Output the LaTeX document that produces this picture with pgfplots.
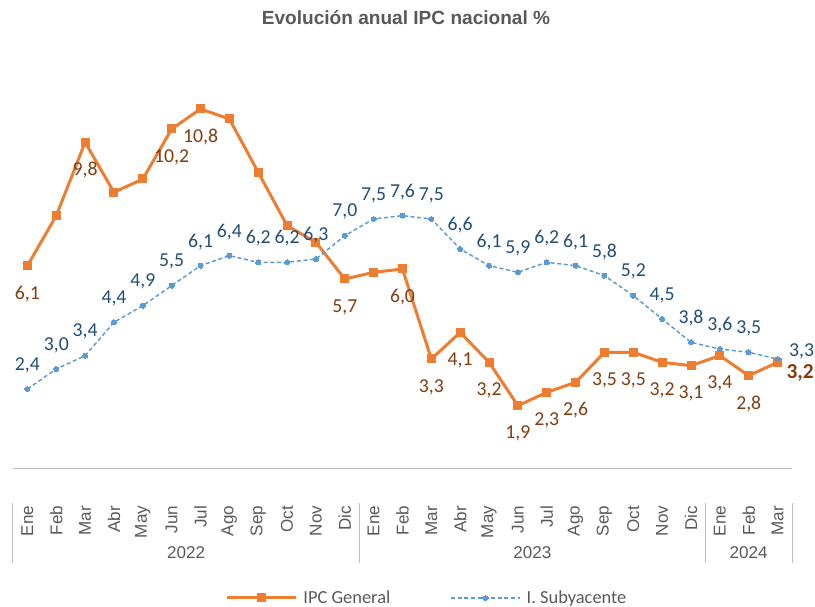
\documentclass[border=0pt]{standalone}
\usepackage{fontspec}
\setmainfont{Liberation Sans}
\newfontfamily\calib{Carlito}
\usepackage{pgfplots}
\pgfplotsset{compat=1.18}
\usepackage{pgfplotstable}
\definecolor{ipc}{HTML}{ED7D31}
\definecolor{sub}{HTML}{5B9BD5}
\definecolor{ipclab}{HTML}{843C0C}
\definecolor{sublab}{HTML}{1F4E79}
\definecolor{txt}{HTML}{595959}
\definecolor{axl}{HTML}{BFBFBF}

\pgfplotstableread{
x ipc sub
0 6.1 2.4
1 7.6 3.0
2 9.8 3.4
3 8.3 4.4
4 8.7 4.9
5 10.2 5.5
6 10.8 6.1
7 10.5 6.4
8 8.9 6.2
9 7.3 6.2
10 6.8 6.3
11 5.7 7.0
12 5.9 7.5
13 6.0 7.6
14 3.3 7.5
15 4.1 6.6
16 3.2 6.1
17 1.9 5.9
18 2.3 6.2
19 2.6 6.1
20 3.5 5.8
21 3.5 5.2
22 3.2 4.5
23 3.1 3.8
24 3.4 3.6
25 2.8 3.5
26 3.2 3.3
}\data

\pgfplotstableread{
x y lab
0 6.1 6,1
2 9.8 9,8
5 10.2 10,2
6 10.8 10,8
11 5.7 5,7
13 6.0 6,0
14 3.3 3,3
15 4.1 4,1
16 3.2 3,2
17 1.9 1,9
18 2.3 2,3
19 2.6 2,6
20 3.5 3,5
21 3.5 3,5
22 3.2 3,2
23 3.1 3,1
24 3.4 3,4
25 2.8 2,8
}\ipclabs

\pgfplotstableread{
x y lab
26 3.2 3,2
}\ipclast

\pgfplotstableread{
x y lab
0 2.4 2,4
1 3.0 3,0
2 3.4 3,4
3 4.4 4,4
4 4.9 4,9
5 5.5 5,5
6 6.1 6,1
7 6.4 6,4
8 6.2 6,2
9 6.2 6,2
10 6.3 6,3
11 7.0 7,0
12 7.5 7,5
13 7.6 7,6
14 7.5 7,5
15 6.6 6,6
16 6.1 6,1
17 5.9 5,9
18 6.2 6,2
19 6.1 6,1
20 5.8 5,8
21 5.2 5,2
22 4.5 4,5
23 3.8 3,8
24 3.6 3,6
25 3.5 3,5
}\sublabs

\pgfplotstableread{
x y lab
26 3.3 3,3
}\sublast

\begin{document}
\begin{tikzpicture}
\path[use as bounding box] (0,0) rectangle (611.25pt,455.25pt);
\begin{axis}[
  at={(9.75pt,103.5pt)}, anchor=south west,
  scale only axis, width=584.25pt, height=300pt,
  xmin=-0.5, xmax=26.5, ymin=0, ymax=12,
  hide y axis,
  axis x line=bottom,
  x axis line style={-, draw=axl, line width=0.75pt},
  xtick={0,...,26},
  xticklabels={Ene,Feb,Mar,Abr,May,Jun,Jul,Ago,Sep,Oct,Nov,Dic,Ene,Feb,Mar,Abr,May,Jun,Jul,Ago,Sep,Oct,Nov,Dic,Ene,Feb,Mar},
  major tick length=0pt,
  xticklabel style={yshift=-27.5pt, rotate=90, anchor=east, inner sep=0pt, font=\fontsize{12.8}{14}\selectfont, text=txt},
  clip=false,
  legend columns=2,
  legend cell align=left,
  legend style={at={(0.2673,-0.3225)}, anchor=west, draw=none, fill=none,
    font=\calib\fontsize{13.8}{16}\selectfont, text=txt,
    /tikz/every odd column/.append style={column sep=2.5pt},
    /tikz/every even column/.append style={column sep=43pt}},
  legend image code/.code={\draw[mark repeat=2, mark phase=2, #1] plot coordinates {(0pt,0pt) (25.875pt,0pt) (51.75pt,0pt)};},
]
\addplot[color=ipc, line width=2.25pt, mark=square*, mark size=3pt, mark options={solid, fill=ipc, draw=ipc, line width=0pt}] table[x=x, y=ipc] {\data};
\addlegendentry{IPC General}
\addplot[color=sub, line width=1.1pt, dash pattern=on 3pt off 2pt, mark=*, mark size=1.9pt, mark options={solid, fill=sub, draw=sub, line width=0pt}] table[x=x, y=sub] {\data};
\addlegendentry{I. Subyacente}

\addplot[forget plot, draw=none, mark=none, nodes near coords, point meta=explicit symbolic,
  every node near coord/.append style={anchor=center, yshift=-21pt, text=ipclab, font=\calib\fontsize{14.8}{16}\selectfont}]
  table[x=x, y=y, meta=lab] {\ipclabs};
\addplot[forget plot, draw=none, mark=none, nodes near coords, point meta=explicit symbolic,
  every node near coord/.append style={anchor=center, xshift=17pt, yshift=-8.25pt, text=ipclab, font=\calib\bfseries\fontsize{16}{18}\selectfont}]
  table[x=x, y=y, meta=lab] {\ipclast};
\addplot[forget plot, draw=none, mark=none, nodes near coords, point meta=explicit symbolic,
  every node near coord/.append style={anchor=center, yshift=18pt, text=sublab, font=\calib\fontsize{14.8}{16}\selectfont}]
  table[x=x, y=y, meta=lab] {\sublabs};
\addplot[forget plot, draw=none, mark=none, nodes near coords, point meta=explicit symbolic,
  every node near coord/.append style={anchor=center, xshift=18pt, yshift=6pt, text=sublab, font=\calib\fontsize{14.8}{16}\selectfont}]
  table[x=x, y=y, meta=lab] {\sublast};

\draw[axl, line width=0.75pt] ([yshift=-25.5pt]axis cs:-0.5,0) -- ([yshift=-70.5pt]axis cs:-0.5,0);
\draw[axl, line width=0.75pt] ([yshift=-25.5pt]axis cs:11.5,0) -- ([yshift=-70.5pt]axis cs:11.5,0);
\draw[axl, line width=0.75pt] ([yshift=-25.5pt]axis cs:23.5,0) -- ([yshift=-70.5pt]axis cs:23.5,0);
\draw[axl, line width=0.75pt] ([yshift=-25.5pt]axis cs:26.5,0) -- ([yshift=-70.5pt]axis cs:26.5,0);
\node[font=\fontsize{12.8}{14}\selectfont, text=txt] at ([yshift=-63pt]axis cs:5.5,0) {2022};
\node[font=\fontsize{12.8}{14}\selectfont, text=txt] at ([yshift=-63pt]axis cs:17.5,0) {2023};
\node[font=\fontsize{12.8}{14}\selectfont, text=txt] at ([yshift=-63pt]axis cs:25,0) {2024};
\end{axis}
\node[font=\bfseries\fontsize{14.3}{16}\selectfont, text=txt] at (304.5pt,441.75pt) {Evolución anual IPC nacional \%};
\end{tikzpicture}
\end{document}
